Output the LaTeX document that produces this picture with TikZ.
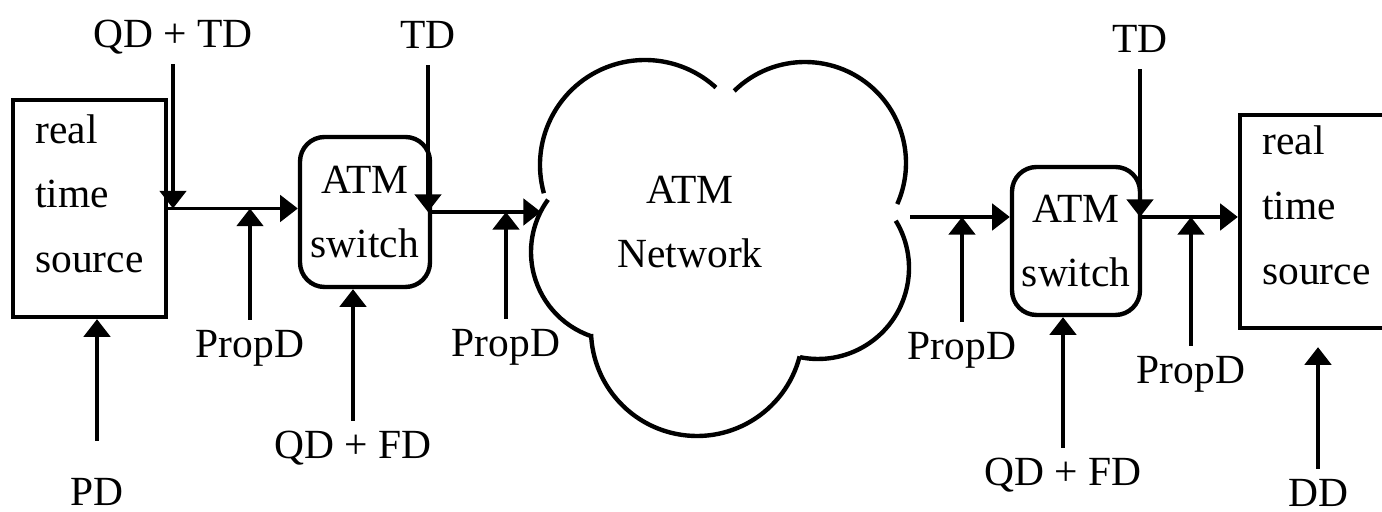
\documentclass[tikz,border=0pt]{standalone}
\usepackage{fontspec}
\setmainfont{Liberation Serif}
\usetikzlibrary{arrows.meta, calc}

\begin{document}
\begin{tikzpicture}[
  box/.style={draw, line width=1.25pt, minimum width=1.53cm, minimum height=2.17cm,
              align=left, inner sep=0pt, font=\fontsize{11.8}{18.4}\selectfont},
  switchbox/.style={draw, line width=1.25pt, rounded corners=7pt, minimum width=1.30cm,
              minimum height=1.50cm, align=center, inner sep=0pt,
              font=\fontsize{11.8}{18.4}\selectfont},
  lbl/.style={font=\fontsize{11.8}{14}\selectfont, inner sep=2.5pt,
              text height=8pt, text depth=2pt},
  arr/.style={-{Triangle[length=5pt, width=7.5pt]}, line width=0.95pt},
  lobe/.style={line width=1.25pt},
]
  \useasboundingbox (0,0) rectangle (13.82,-5.12);
  \clip (0,0) rectangle (13.82,-5.12);

  \node[box] (src) at (0.895,-2.085) {real\\time\\source\rule[-0.3cm]{0pt}{0pt}};
  \node[box, minimum height=2.13cm] (dst) at (13.165,-2.215)
    {real\\time\\source\rule[-0.33cm]{0pt}{0pt}};
  \node[switchbox] (sw1) at (3.65,-2.12) {ATM\\switch};
  \node[switchbox, minimum width=1.28cm, minimum height=1.48cm] (sw2) at (10.76,-2.41)
    {ATM\\switch};
  \node[align=center, font=\fontsize{11.8}{18.4}\selectfont] (net) at (6.90,-2.22)
    {ATM\\Network};

  \draw[lobe] ([shift={(195.6:1.05)}]6.45,-1.65) arc[start angle=195.6, end angle=47.5, radius=1.05];
  \draw[lobe] ([shift={(134.5:1.01)}]8.05,-1.63) arc[start angle=134.5, end angle=-24, radius=1.01];
  \draw[lobe] ([shift={(31.3:0.91)}]8.18,-2.68) arc[start angle=31.3, end angle=-101.4, radius=0.91];
  \draw[lobe] ([shift={(-14.4:1.06)}]6.97,-3.30) arc[start angle=-14.4, end angle=-177.8, radius=1.06];
  \draw[lobe] ([shift={(251:0.89)}]6.20,-2.52) arc[start angle=251, end angle=144, radius=0.89];
  \coordinate (lcusp) at (5.41,-2.12);
  \coordinate (rcusp) at (9.10,-2.17);

  \node[lbl] (qdtd) at (1.73,-0.37) {QD + TD};
  \node[lbl] (td1) at (4.28,-0.38) {TD};
  \node[lbl] (td2) at (11.40,-0.42) {TD};
  \node[lbl] (pd) at (0.97,-4.95) {PD};
  \node[lbl] (propd1) at (2.50,-3.47) {PropD};
  \node[lbl] (propd2) at (5.06,-3.46) {PropD};
  \node[lbl] (propd3) at (9.62,-3.49) {PropD};
  \node[lbl] (propd4) at (11.91,-3.73) {PropD};
  \node[lbl] (qdfd1) at (3.53,-4.48) {QD + FD};
  \node[lbl] (qdfd2) at (10.63,-4.75) {QD + FD};
  \node[lbl] (dd) at (13.18,-4.96) {DD};

  \draw[arr] (src.east) -- (src.east -| sw1.west);
  \draw[arr] (sw1.east) -- (lcusp);
  \draw[arr] (rcusp) -- (rcusp -| sw2.west);
  \draw[arr] (rcusp -| sw2.east) -- (rcusp -| dst.west);
  \draw[arr] (qdtd.south) -- (qdtd.south |- src.east);
  \draw[arr] (propd1.north) -- (propd1.north |- src.east);
  \draw[arr] (td1.south) -- (td1.south |- sw1.east);
  \draw[arr] (propd2.north) -- (propd2.north |- sw1.east);
  \draw[arr] (propd3.north) -- (propd3.north |- rcusp);
  \draw[arr] (td2.south) -- (td2.south |- rcusp);
  \draw[arr] (propd4.north) -- (propd4.north |- rcusp);
  \draw[arr] (qdfd1.north) -- (qdfd1.north |- sw1.south);
  \draw[arr] (qdfd2.north) -- (qdfd2.north |- sw2.south);
  \draw[arr, shorten <=0.27cm] (pd.north) -- (pd.north |- src.south);
  \draw[arr, shorten >=0.17cm] (dd.north) -- (dd.north |- dst.south);
\end{tikzpicture}
\end{document}
